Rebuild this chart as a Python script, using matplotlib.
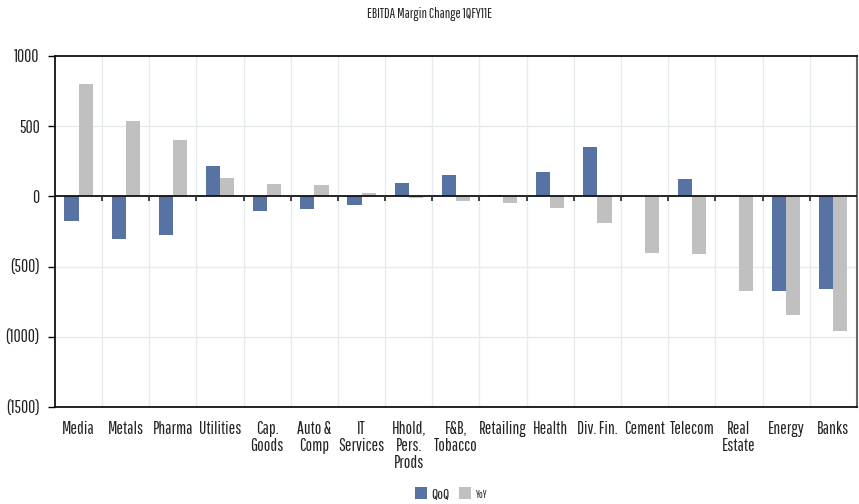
import numpy as np
import matplotlib.pyplot as plt
from matplotlib.ticker import FuncFormatter

plt.rcParams['font.family'] = ['Pathway Gothic One', 'DejaVu Sans']
plt.rcParams['text.color'] = '#222222'
plt.rcParams['xtick.labelcolor'] = '#222222'
plt.rcParams['ytick.labelcolor'] = '#222222'

categories = ["Media", "Metals", "Pharma", "Utilities", "Cap.\nGoods", "Auto &\nComp",
              "IT\nServices", "Hhold,\nPers.\nProds", "F&B,\nTobacco", "Retailing",
              "Health", "Div. Fin.", "Cement", "Telecom", "Real\nEstate", "Energy", "Banks"]
qoq = [-176, -306, -278, 214, -105, -90, -62, 95, 152, 9, 173, 351, 0, 123, 0, -674, -660]
yoy = [800, 534, 400, 128, 86, 80, 24, -12, -35, -50, -83, -190, -404, -411, -674, -845, -959]

qoq_color = '#5773A4'
yoy_color = '#C0C0C0'
grid_color = '#E6EBEB'

fig = plt.figure(figsize=(8.59, 5.04), dpi=100)
ax = fig.add_axes([0.064, 0.1925, 0.9335, 0.6965])

x = np.arange(len(categories))
w = 0.30
ax.bar(x - w / 2, qoq, w, color=qoq_color, label='QoQ', zorder=3)
ax.bar(x + w / 2, yoy, w, color=yoy_color, label='YoY', zorder=3)

ax.set_xlim(-0.5, len(categories) - 0.5)
ax.set_ylim(-1500, 1000)
ax.set_yticks(np.arange(-1500, 1001, 500))
ax.yaxis.set_major_formatter(FuncFormatter(lambda v, p: f"({abs(int(v))})" if v < 0 else f"{int(v)}"))
ax.tick_params(axis='y', length=5, width=1, labelsize=12.5, pad=6)

# gridlines
for b in np.arange(0.5, len(categories) - 0.5, 1):
    ax.axvline(b, color=grid_color, lw=1, zorder=1)
for yv in [-1000, -500, 500]:
    ax.axhline(yv, color=grid_color, lw=1, zorder=1)

# zero line with small tick marks at category boundaries
ax.axhline(0, color='#111111', lw=1.3, zorder=4)
bounds = np.arange(0.5, len(categories) - 0.5, 1)
ax.vlines(bounds, -35, 0, color='#333333', lw=1.3, zorder=4)

ax.set_xticks(x)
ax.set_xticklabels(categories, fontsize=12.5, va='top', linespacing=1.1)
ax.tick_params(axis='x', length=0, pad=10)

for s in ['left', 'bottom', 'top']:
    ax.spines[s].set_color('#111111')
    ax.spines[s].set_linewidth(1.3)
ax.spines['right'].set_color('#666666')
ax.spines['right'].set_linewidth(1.5)

fig.text(0.5, 0.972, "EBITDA Margin Change 1QFY11E", ha='center', va='center', fontsize=10)

h, l = ax.get_legend_handles_labels()
leg = fig.legend(h, l, loc='center', bbox_to_anchor=(0.525, 0.02), ncol=2, frameon=False,
                 fontsize=11, handlelength=0.8, handleheight=0.8, handletextpad=0.3, columnspacing=0.6)
leg.get_texts()[1].set_fontsize(7.5)

fig.savefig('out.png', dpi=100)
